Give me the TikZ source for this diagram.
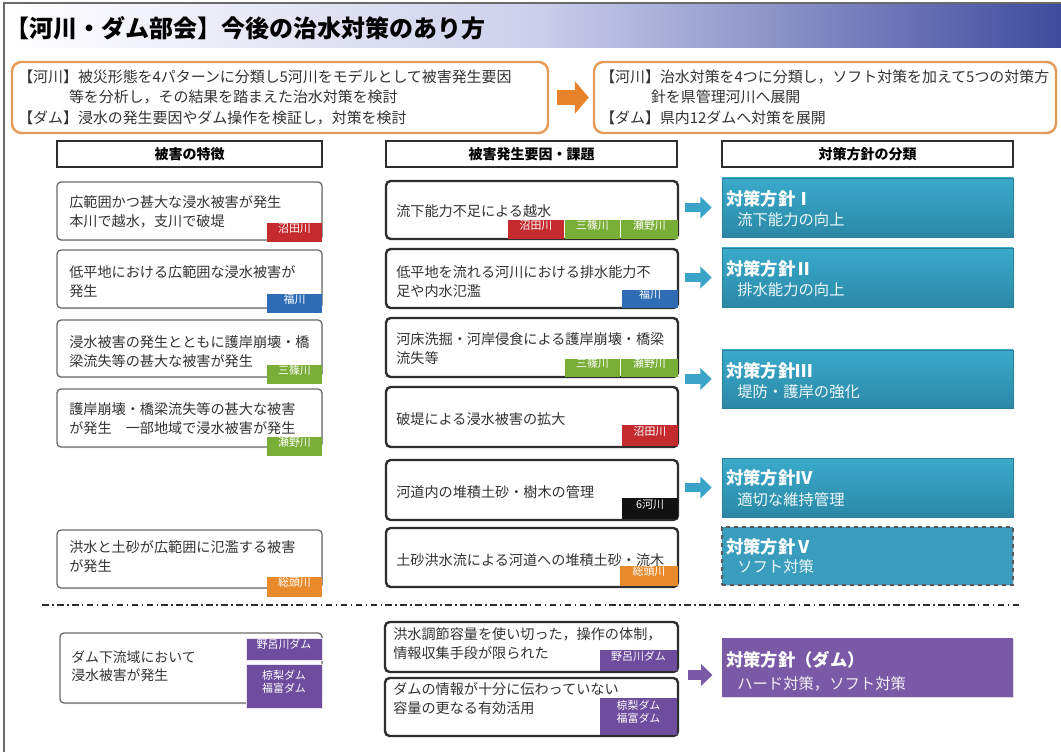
\documentclass[tikz,border=0pt]{standalone}
\usepackage{fontspec}
\setmainfont{Noto Sans CJK JP}
\usetikzlibrary{fit,calc,arrows.meta,shadows}
\definecolor{txtc}{HTML}{333333}
\definecolor{lgray}{HTML}{6A6A6A}
\definecolor{dgray}{HTML}{2E2E2E}
\definecolor{obord}{HTML}{E59A55}
\definecolor{oarr}{HTML}{E8822A}
\definecolor{tealA}{HTML}{3AAACB}
\definecolor{tealB}{HTML}{2B88A6}
\definecolor{tealC}{HTML}{2A7F9A}
\definecolor{tealflat}{HTML}{3A9DBE}
\definecolor{tarr}{HTML}{3AA3C8}
\definecolor{purp}{HTML}{7A5AA6}
\definecolor{purptag}{HTML}{6E4C9E}
\definecolor{tagred}{HTML}{C42A2E}
\definecolor{tagblue}{HTML}{2E6DB6}
\definecolor{taggreen}{HTML}{79AE36}
\definecolor{tagorange}{HTML}{E88A2B}
\definecolor{tagblack}{HTML}{111111}
\definecolor{tbmid}{HTML}{CDD0EC}
\definecolor{tbend}{HTML}{3E4C9E}
\begin{document}
\begin{tikzpicture}[x=0.75pt,y=-0.75pt,
  lbox/.style={draw=lgray, line width=1pt, rounded corners=3pt, fill=white, inner sep=0pt,
    drop shadow={shadow xshift=0.8pt, shadow yshift=-0.8pt, opacity=0.25}},
  mbox/.style={draw=dgray, line width=1.8pt, rounded corners=3.5pt, fill=white, inner sep=0pt},
  hbox/.style={draw=dgray, line width=1.5pt, fill=white, inner sep=0pt,
    drop shadow={shadow xshift=0.8pt, shadow yshift=-0.8pt, opacity=0.3}},
  htxt/.style={font=\bfseries\fontsize{10.5}{12}\selectfont, text=black},
  obox/.style={draw=obord, line width=1.8pt, rounded corners=7pt, fill=white, inner sep=0pt},
  tbox/.style={top color=tealA, bottom color=tealB, draw=tealC, line width=0.4pt, inner sep=0pt,
    drop shadow={shadow xshift=1pt, shadow yshift=-1pt, opacity=0.3}},
  vbox/.style={fill=tealflat, draw=dgray!80, dashed, line width=0.8pt, inner sep=0pt,
    drop shadow={shadow xshift=1pt, shadow yshift=-1pt, opacity=0.3}},
  pbox/.style={fill=purp, inner sep=0pt, drop shadow={shadow xshift=1pt, shadow yshift=-1pt, opacity=0.3}},
  tag/.style={inner sep=0pt, text=white, font=\fontsize{8.2}{9.8}\selectfont, align=center},
  ptag/.style={tag, fill=purptag, draw=white!85!purptag, line width=0.6pt,
    drop shadow={shadow xshift=0.8pt, shadow yshift=-0.8pt, opacity=0.3}},
  txt/.style={anchor=west, align=left, inner sep=0pt, text=txtc, font=\fontsize{10.6}{14.4}\selectfont},
  toptxt/.style={anchor=west, align=left, inner sep=0pt, text=txtc, font=\fontsize{11.2}{15.4}\selectfont},
  head/.style={anchor=west, inner sep=0pt, text=white, font=\bfseries\fontsize{13}{15}\selectfont},
  sub/.style={anchor=west, inner sep=0pt, text=white!92!tealA, font=\fontsize{11.5}{13}\selectfont},
  tarrow/.style={draw=tarr, line width=7.2pt, -{Triangle[width=16pt,length=8.5pt]}, shorten >=7.5pt},
  parrow/.style={draw=purp, line width=7.2pt, -{Triangle[width=16pt,length=8.5pt]}, shorten >=7pt}
]
\useasboundingbox (0,0) rectangle (1061,752);
\fill[white] (0,0) rectangle (1061,752);
% title bar
\shade[left color=white, right color=tbmid] (4,3) rectangle (530,48);
\shade[left color=tbmid, right color=tbend] (530,3) rectangle (1061,48);
\draw[lgray, line width=1.2pt] (4,752) -- (4,3) -- (1061,3);
\node[anchor=west, inner sep=0pt, font=\bfseries\fontsize{18}{20}\selectfont, text=black] (title) at (5,28) {【河川・ダム部会】今後の治水対策のあり方};

% top boxes
\node[obox, fit={(12,62)(548,133)}] (TL) {};
\node[toptxt] (TLt) at (18,97) {【河川】被災形態を4パターンに分類し5河川をモデルとして被害発生要因\\\hspace*{3.4em}等を分析し，その結果を踏まえた治水対策を検討\\【ダム】浸水の発生要因やダム操作を検証し，対策を検討};
\node[obox, fit={(594,62)(1056,133)}] (TR) {};
\node[toptxt] (TRt) at (600,97) {【河川】治水対策を4つに分類し，ソフト対策を加えて5つの対策方\\\hspace*{3.4em}針を県管理河川へ展開\\【ダム】県内12ダムへ対策を展開};
\draw[draw=oarr, line width=11pt, -{Triangle[width=24pt,length=10.5pt]}, shorten <=6pt, shorten >=3pt] (TL.east) -- (TR.west);

% headers
\node[hbox, fit={(57,141)(322,167)}] (H1) {};
\node[htxt] (H1t) at (H1.center) {被害の特徴};
\node[hbox, fit={(386,141)(677,167)}] (H2) {};
\node[htxt] (H2t) at (H2.center) {被害発生要因・課題};
\node[hbox, fit={(722,141)(1013,167)}] (H3) {};
\node[htxt] (H3t) at (H3.center) {対策方針の分類};

% left column
\node[lbox, fit={(57,182)(322,240)}] (L1) {};
\node[txt] (L1t) at (69,212) {広範囲かつ甚大な浸水被害が発生\\本川で越水，支川で破堤};
\node[tag, fill=tagred, fit={(267,223)(322,242)}] (L1g) {沼田川};
\node[lbox, fit={(57,250)(322,308)}] (L2) {};
\node[txt] (L2t) at (69,282) {低平地における広範囲な浸水被害が\\発生};
\node[tag, fill=tagblue, fit={(267,294)(322,313)}] (L2g) {福川};
\node[lbox, fit={(57,320)(322,377)}] (L3) {};
\node[txt] (L3t) at (69,352) {浸水被害の発生とともに護岸崩壊・橋\\梁流失等の甚大な被害が発生};
\node[tag, fill=taggreen, fit={(267,365)(322,384)}] (L3g) {三篠川};
\node[lbox, fit={(57,389)(322,447)}] (L4) {};
\node[txt] (L4t) at (69,419) {護岸崩壊・橋梁流失等の甚大な被害\\が発生　一部地域で浸水被害が発生};
\node[tag, fill=taggreen, fit={(267,437)(322,456)}] (L4g) {瀬野川};
\node[lbox, fit={(57,530)(322,588)}] (L5) {};
\node[txt] (L5t) at (69,557) {洪水と土砂が広範囲に氾濫する被害\\が発生};
\node[tag, fill=tagorange, fit={(267,577)(322,597)}] (L5g) {総頭川};

% middle column
\node[mbox, fit={(386,181)(678,239)}] (M1) {};
\node[txt] (M1t) at (396,211) {流下能力不足による越水};
\node[tag, fill=tagred, fit={(508,220)(564,239)}] (M1a) {沼田川};
\node[tag, fill=taggreen, fit={(565,220)(620,239)}] (M1b) {三篠川};
\node[tag, fill=taggreen, fit={(621,220)(678,239)}] (M1c) {瀬野川};
\node[mbox, fit={(386,249)(678,308)}] (M2) {};
\node[txt] (M2t) at (396,282) {低平地を流れる河川における排水能力不\\足や内水氾濫};
\node[tag, fill=tagblue, fit={(622,290)(678,308)}] (M2a) {福川};
\node[mbox, fit={(386,318)(678,377)}] (M3) {};
\node[txt] (M3t) at (396,349) {河床洗掘・河岸侵食による護岸崩壊・橋梁\\流失等};
\node[tag, fill=taggreen, fit={(565,359)(620,377)}] (M3a) {三篠川};
\node[tag, fill=taggreen, fit={(621,359)(678,377)}] (M3b) {瀬野川};
\node[mbox, fit={(386,387)(678,447)}] (M4) {};
\node[txt] (M4t) at (396,419) {破堤による浸水被害の拡大};
\node[tag, fill=tagred, fit={(622,425)(678,446)}] (M4a) {沼田川};
\node[mbox, fit={(386,460)(678,520)}] (M5) {};
\node[txt] (M5t) at (396,492) {河道内の堆積土砂・樹木の管理};
\node[tag, fill=tagblack, fit={(622,498)(678,519)}] (M5a) {6河川};
\node[mbox, fit={(386,528)(678,587)}] (M6) {};
\node[txt] (M6t) at (396,560) {土砂洪水流による河道への堆積土砂・流木};
\node[tag, fill=tagorange, fit={(620,566)(678,586)}] (M6a) {総頭川};

% right column
\node[tbox, fit={(722,178)(1013,237)}] (R1) {};
\node[head] (R1h) at (726,199) {対策方針Ⅰ};
\node[sub] (R1s) at (737,220) {流下能力の向上};
\node[tbox, fit={(722,248)(1013,307)}] (R2) {};
\node[head] (R2h) at (726,269) {対策方針Ⅱ};
\node[sub] (R2s) at (737,290) {排水能力の向上};
\node[tbox, fit={(722,350)(1013,408)}] (R3) {};
\node[head] (R3h) at (726,371) {対策方針Ⅲ};
\node[sub] (R3s) at (737,392) {堤防・護岸の強化};
\node[tbox, fit={(722,458)(1013,517)}] (R4) {};
\node[head] (R4h) at (726,478) {対策方針Ⅳ};
\node[sub] (R4s) at (737,500) {適切な維持管理};
\node[vbox, fit={(722,527)(1013,585)}] (R5) {};
\node[head] (R5h) at (726,547) {対策方針Ⅴ};
\node[sub] (R5s) at (737,567) {ソフト対策};

% teal arrows
\coordinate (a1) at ($(R1.west)+(-37,0)$);
\coordinate (a2) at ($(R2.west)+(-37,0)$);
\coordinate (a3) at ($(R3.west)+(-37,0)$);
\coordinate (a4) at ($(R4.west)+(-37,0)$);
\draw[tarrow] (a1) -- (R1.west);
\draw[tarrow] (a2) -- (R2.west);
\draw[tarrow] (a3) -- (R3.west);
\draw[tarrow] (a4) -- (R4.west);

% separator
\coordinate (d1) at (42,605);
\coordinate (d2) at (1020,605);
\draw[dgray, line width=1.3pt, dash pattern=on 5pt off 2.5pt on 1.2pt off 2.5pt] (d1) -- (d2);

% bottom
\node[lbox, fit={(60,633)(322,703)}] (BL) {};
\node[txt, font=\fontsize{10.4}{13.6}\selectfont] (BLt) at (71,666) {ダム下流域において\\浸水被害が発生};
\node[ptag, fit={(246,638)(322,660)}] (BLa) {野呂川ダム};
\node[ptag, fit={(246,664)(322,708)}] (BLb) {椋梨ダム\\福富ダム};
\node[mbox, fit={(385,622)(678,672)}] (B1) {};
\node[txt] (B1t) at (393,644) {洪水調節容量を使い切った，操作の体制，\\情報収集手段が限られた};
\node[tag, fill=purptag, fit={(600,650)(677,671)}] (B1a) {野呂川ダム};
\node[mbox, fit={(385,678)(678,736)}] (B2) {};
\node[txt] (B2t) at (393,699) {ダムの情報が十分に伝わっていない\\容量の更なる有効活用};
\node[tag, fill=purptag, fit={(600,698)(677,735)}] (B2a) {椋梨ダム\\福富ダム};
\node[pbox, fit={(722,638)(1013,697)}] (P) {};
\node[head] (Ph) at (726,660) {対策方針（ダム）};
\node[sub, text=white!90!purp] (Ps) at (737,684) {ハード対策，ソフト対策};
\coordinate (pa) at (688,675);
\draw[parrow] (pa) -- (pa -| P.west);
\end{tikzpicture}
\end{document}
